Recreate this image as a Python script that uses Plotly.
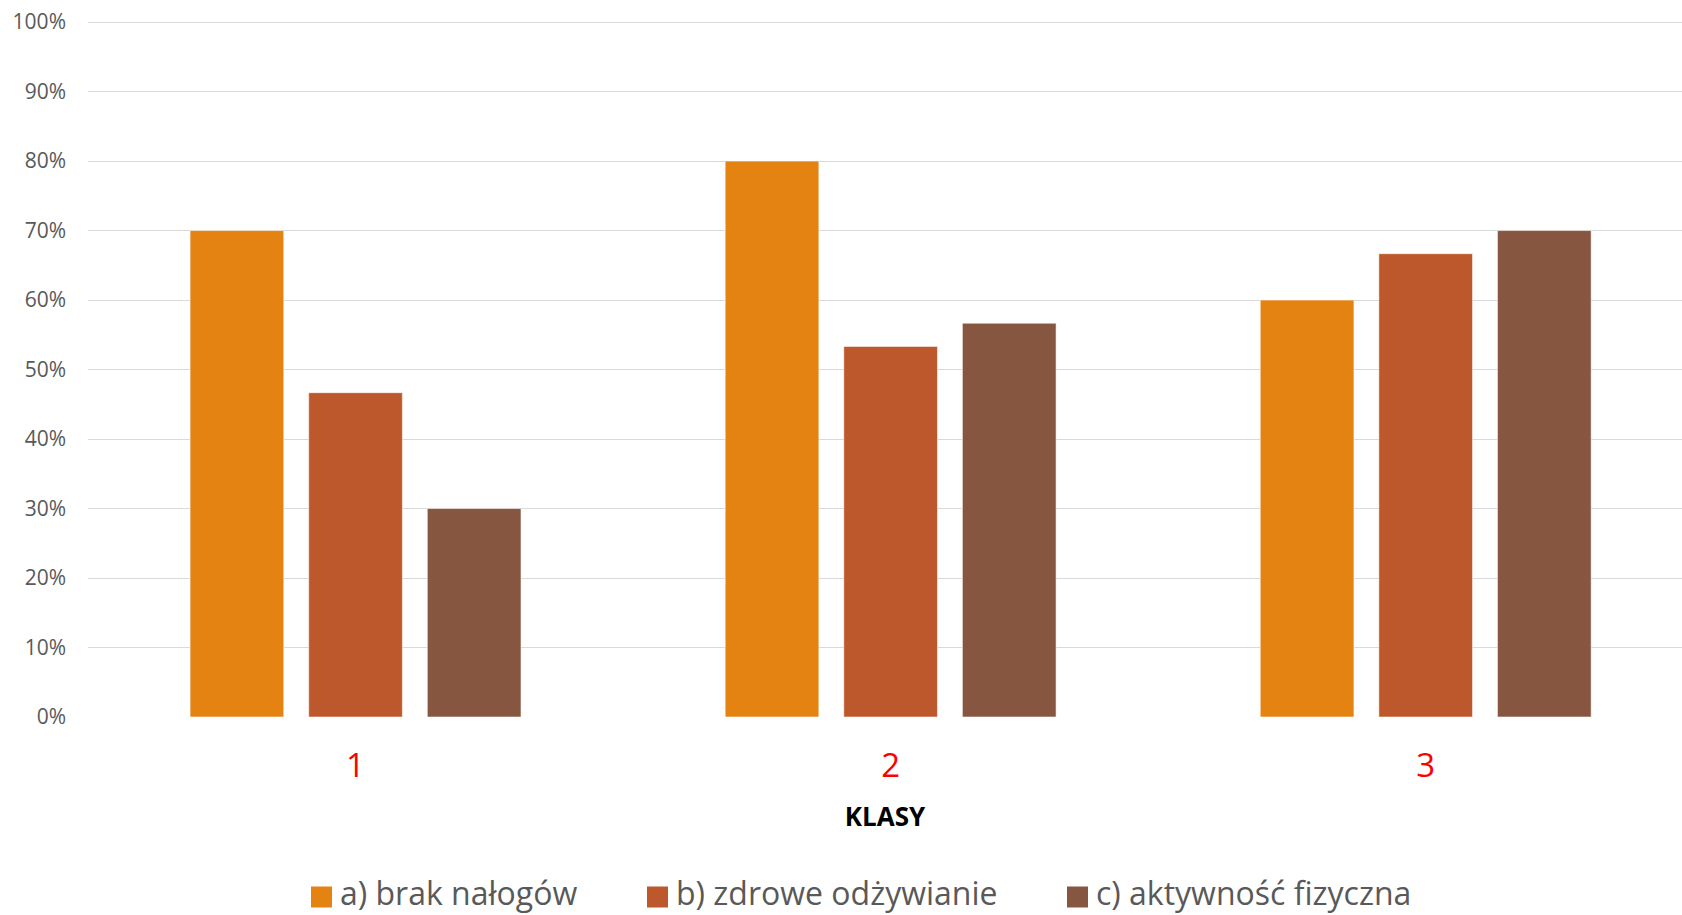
import plotly.graph_objects as go

# Survey results per class
classes = ["1", "2", "3"]
series_names = ["a) brak nałogów", "b) zdrowe odżywianie", "c) aktywność fizyczna"]
brak_nalogow = [70.0, 80.0, 60.0]
zdrowe_odzywianie = [46.67, 53.33, 66.67]
aktywnosc_fizyczna = [30.0, 56.67, 70.0]
series_values = [brak_nalogow, zdrowe_odzywianie, aktywnosc_fizyczna]
series_colors = ["#E48312", "#BD582C", "#865640"]

y_ticks = [0, 10, 20, 30, 40, 50, 60, 70, 80, 90, 100]
y_tick_labels = [f"{v}%" for v in y_ticks]

FONT = "Open Sans"
TEXT_GREY = "#595959"

W, H = 1682, 915
M_L, M_R, M_T, M_B = 88, 0, 20, 198
plot_w = W - M_L - M_R
plot_h = H - M_T - M_B

fig = go.Figure()
for name, vals, color in zip(series_names, series_values, series_colors):
    fig.add_trace(go.Bar(
        x=classes,
        y=vals,
        name=name,
        marker=dict(color=color, line=dict(color="rgba(255,255,255,0.55)", width=1)),
        hovertemplate="%{y:.2f}%<extra>" + name + "</extra>",
        showlegend=False,
    ))

# Legend row under the axis title: a colour swatch followed by the series name
legend_item_px = [311, 647, 1067]   # left edge of each swatch, in page pixels
swatch_px = 21
swatch_center_py = 897
legend_text_bottom_py = 914


def px_to_paper_x(px):
    return (px - M_L) / plot_w


def py_to_paper_y(py):
    return (H - M_B - py) / plot_h


shapes = []
annotations = []
for name, color, left in zip(series_names, series_colors, legend_item_px):
    shapes.append(dict(
        type="rect", xref="paper", yref="paper",
        x0=px_to_paper_x(left), x1=px_to_paper_x(left + swatch_px),
        y0=py_to_paper_y(swatch_center_py + swatch_px / 2),
        y1=py_to_paper_y(swatch_center_py - swatch_px / 2),
        fillcolor=color, line=dict(width=0),
    ))
    annotations.append(dict(
        xref="paper", yref="paper",
        x=px_to_paper_x(left + swatch_px + 8), y=py_to_paper_y(legend_text_bottom_py),
        xanchor="left", yanchor="bottom",
        text=name, showarrow=False, borderpad=0, borderwidth=0,
        font=dict(family=FONT, size=32, color=TEXT_GREY),
    ))

fig.update_layout(
    width=W,
    height=H,
    margin=dict(l=M_L, r=M_R, t=M_T, b=M_B, autoexpand=False),
    paper_bgcolor="white",
    plot_bgcolor="white",
    barmode="group",
    bargap=0.335,
    bargroupgap=0.21,
    font=dict(family=FONT, color=TEXT_GREY),
    showlegend=False,
    shapes=shapes,
    annotations=annotations,
    xaxis=dict(
        type="category",
        range=[-0.5, 2.479],
        showgrid=False,
        showline=False,
        zeroline=False,
        tickfont=dict(family=FONT, size=33, color="#FF0000"),
        ticklabelstandoff=26,
        title=dict(
            text="<b>KLASY</b>",
            font=dict(family=FONT, size=26, color="#000000"),
            standoff=21,
        ),
        automargin=False,
    ),
    yaxis=dict(
        range=[0, 100.3],
        tickvals=y_ticks,
        ticktext=y_tick_labels,
        showgrid=True,
        gridcolor="#D9D9D9",
        gridwidth=1.3,
        zeroline=False,
        showline=False,
        tickfont=dict(family=FONT, size=21, color=TEXT_GREY),
        ticklabelstandoff=21,
        automargin=False,
    ),
)

fig.write_html("out.html")
